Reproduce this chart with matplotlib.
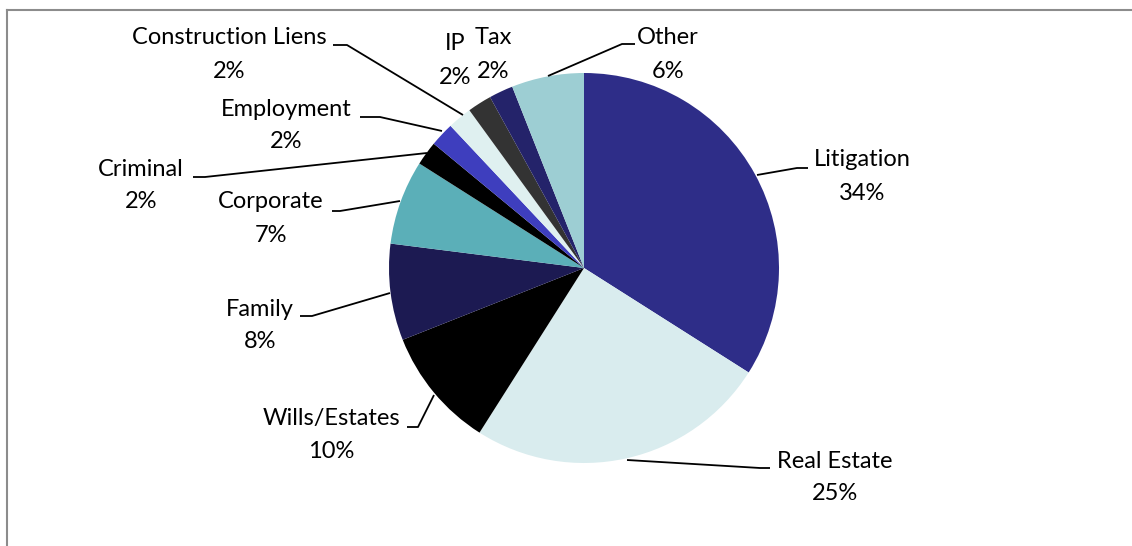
import matplotlib.pyplot as plt
from matplotlib.lines import Line2D

# Practice areas share (clockwise from 12 o'clock)
areas = ['Litigation', 'Real Estate', 'Wills/Estates', 'Family', 'Corporate',
         'Criminal', 'Employment', 'Construction Liens', 'IP', 'Tax', 'Other']
shares = [34, 25, 10, 8, 7, 2, 2, 2, 2, 2, 6]
colors = ['#2E2D88', '#D9ECEE', '#000000', '#1C1A52', '#5BAFB8', '#000000',
          '#3E3EBE', '#DFF0F0', '#333333', '#24236A', '#9DCED3']

W, H = 1132, 546
fig = plt.figure(figsize=(W / 100, H / 100), dpi=100)
ax = fig.add_axes([0, 0, 1, 1])

cx, cy, r = 584, H - 268, 195
ax.pie(shares, colors=colors, startangle=90, counterclock=False,
       center=(cx, cy), radius=r, frame=True,
       wedgeprops=dict(linewidth=0))
ax.set_xlim(0, W)
ax.set_ylim(0, H)
ax.set_aspect('equal')
ax.axis('off')

# label layout in image pixels: name centre, leader polyline (pie -> text)
layout = {
    'Litigation': ((862, 160), [(757, 175), (797, 168), (808, 168)]),
    'Real Estate': ((835, 461), [(627, 460), (760, 468), (770, 468)]),
    'Wills/Estates': ((331, 418), [(434, 395), (418, 427), (407, 427)]),
    'Family': ((260, 309), [(390, 293), (312, 316), (300, 316)]),
    'Corporate': ((271, 202), [(400, 201), (340, 211), (332, 211)]),
    'Criminal': ((141, 169), [(427, 153), (205, 177), (193, 177)]),
    'Employment': ((286, 109), [(442, 131), (380, 117), (360, 117)]),
    'Construction Liens': ((229, 38), [(463, 115), (347, 45), (333, 45)]),
    'IP': ((455, 44), None),
    'Tax': ((493, 38), None),
    'Other': ((668, 38), [(548, 76), (622, 44), (635, 44)]),
}

font = dict(family='Lato', fontsize=17, color='#000000')
for name, val in zip(areas, shares):
    (tx, ty), leader = layout[name]
    ax.text(tx, H - ty, name, ha='center', va='center', **font)
    ax.text(tx, H - ty - 33, f'{val}%', ha='center', va='center', **font)
    if leader:
        xs = [p[0] for p in leader]
        ys = [H - p[1] for p in leader]
        ax.plot(xs, ys, color='black', lw=1.3, solid_capstyle='butt')

# chart area border (left and top visible)
fig.add_artist(Line2D([7 / W, 7 / W], [0, 1 - 10 / H], color='#8C8C8C', lw=1.5,
                      transform=fig.transFigure))
fig.add_artist(Line2D([7 / W, 1], [1 - 10 / H, 1 - 10 / H], color='#8C8C8C', lw=1.5,
                      transform=fig.transFigure))

fig.savefig('out.png', dpi=100)
